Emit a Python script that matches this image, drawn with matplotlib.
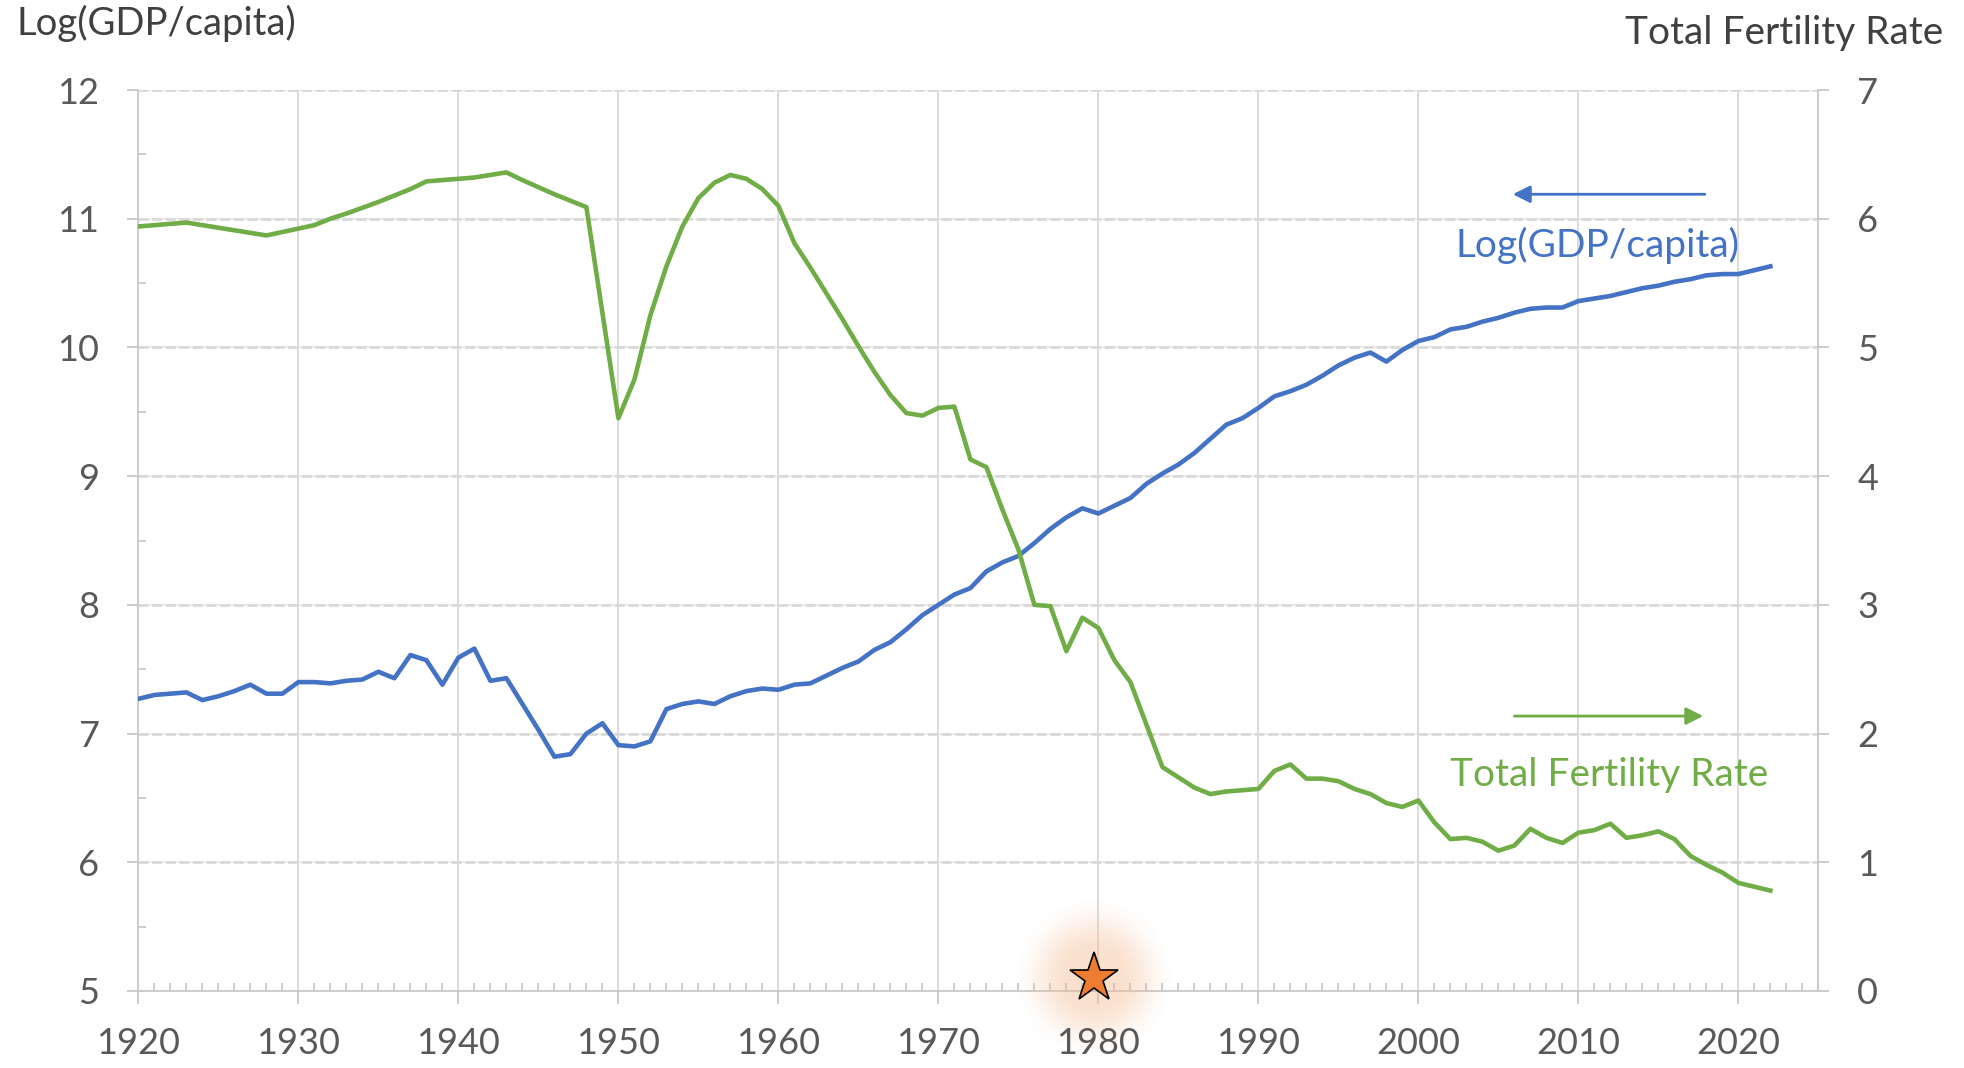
import numpy as np
import matplotlib
matplotlib.use("Agg")
import matplotlib.pyplot as plt
from matplotlib.ticker import MultipleLocator

plt.rcParams['font.family'] = ['Lato', 'DejaVu Sans']

# Log(GDP/capita), linke Achse
gdp_years = list(range(1920, 2023))
gdp_values = [
    7.27, 7.30, 7.31, 7.32, 7.26, 7.29, 7.33, 7.38, 7.31, 7.31,   # 1920-1929
    7.40, 7.40, 7.39, 7.41, 7.42, 7.48, 7.43, 7.61, 7.57, 7.38,   # 1930-1939
    7.59, 7.66, 7.41, 7.43, 7.23, 7.03, 6.82, 6.84, 7.00, 7.08,   # 1940-1949
    6.91, 6.90, 6.94, 7.19, 7.23, 7.25, 7.23, 7.29, 7.33, 7.35,   # 1950-1959
    7.34, 7.38, 7.39, 7.45, 7.51, 7.56, 7.65, 7.71, 7.81, 7.92,   # 1960-1969
    8.00, 8.08, 8.13, 8.26, 8.33, 8.38, 8.48, 8.59, 8.68, 8.75,   # 1970-1979
    8.71, 8.77, 8.83, 8.94, 9.02, 9.09, 9.18, 9.29, 9.40, 9.45,   # 1980-1989
    9.53, 9.62, 9.66, 9.71, 9.78, 9.86, 9.92, 9.96, 9.89, 9.98,   # 1990-1999
    10.05, 10.08, 10.14, 10.16, 10.20, 10.23, 10.27, 10.30, 10.31, 10.31,  # 2000-2009
    10.36, 10.38, 10.40, 10.43, 10.46, 10.48, 10.51, 10.53, 10.56, 10.57,  # 2010-2019
    10.57, 10.60, 10.63,                                          # 2020-2022
]

# Total Fertility Rate, rechte Achse
tfr_years = [1920, 1923, 1928, 1931, 1932, 1933, 1935, 1937, 1938, 1940, 1941, 1943,
             1944, 1946, 1948, 1950, 1951, 1952, 1953, 1954, 1955, 1956, 1957, 1958,
             1959, 1960, 1961, 1962, 1963, 1964, 1965, 1966, 1967, 1968, 1969, 1970,
             1971, 1972, 1973, 1974, 1975, 1976, 1977, 1978, 1979, 1980, 1981, 1982,
             1983, 1984, 1985, 1986, 1987, 1988, 1989, 1990, 1991, 1992, 1993, 1994,
             1995, 1996, 1997, 1998, 1999, 2000, 2001, 2002, 2003, 2004, 2005, 2006,
             2007, 2008, 2009, 2010, 2011, 2012, 2013, 2014, 2015, 2016, 2017, 2018,
             2019, 2020, 2021, 2022]
tfr_values = [5.94, 5.97, 5.87, 5.95, 6.00, 6.04, 6.13, 6.23, 6.29, 6.31, 6.32, 6.36,
              6.30, 6.19, 6.09, 4.45, 4.75, 5.25, 5.63, 5.94, 6.16, 6.28, 6.34, 6.31,
              6.23, 6.10, 5.81, 5.62, 5.42, 5.22, 5.01, 4.81, 4.63, 4.49, 4.47, 4.53,
              4.54, 4.13, 4.07, 3.74, 3.43, 3.00, 2.99, 2.64, 2.90, 2.82, 2.57, 2.40,
              2.07, 1.74, 1.66, 1.58, 1.53, 1.55, 1.56, 1.57, 1.71, 1.76, 1.65, 1.65,
              1.63, 1.57, 1.53, 1.46, 1.43, 1.48, 1.31, 1.18, 1.19, 1.16, 1.09, 1.13,
              1.26, 1.19, 1.15, 1.23, 1.25, 1.30, 1.19, 1.21, 1.24, 1.18, 1.05, 0.98,
              0.92, 0.84, 0.81, 0.78]

blue = '#4472C4'
green = '#70AD47'
orange = '#ED7D31'
tick_col = '#595959'
grid_col = '#d9d9d9'

fig = plt.figure(figsize=(19.65, 10.68), dpi=100)
ax = fig.add_axes([138.4 / 1965, 77 / 1068, 1680 / 1965, 901 / 1068])
ax2 = ax.twinx()

ax.set_xlim(1920, 2025)
ax.set_ylim(5, 12)
ax2.set_ylim(0, 7)

# Gitter
for yv in range(6, 13):
    ax.axhline(yv, color='#e8e8e8', lw=1.2, zorder=0.3)
    ax.axhline(yv, color=grid_col, lw=2.0, ls=(0, (3.6, 1.3)), zorder=0.4)
for xv in range(1930, 2030, 10):
    ax.axvline(xv, color=grid_col, lw=1.3, zorder=0.4)

for a in (ax, ax2):
    a.spines['top'].set_visible(False)
    for s in ('left', 'right', 'bottom'):
        a.spines[s].set_color('#c8c8c8')
        a.spines[s].set_linewidth(1.3)
ax.spines['right'].set_visible(False)
ax2.spines['left'].set_visible(False)
ax2.spines['bottom'].set_visible(False)

ax.xaxis.set_major_locator(MultipleLocator(10))
ax.xaxis.set_minor_locator(MultipleLocator(1))
ax.yaxis.set_major_locator(MultipleLocator(1))
ax.yaxis.set_minor_locator(MultipleLocator(0.5))
ax2.yaxis.set_major_locator(MultipleLocator(1))

ax.tick_params(axis='x', which='major', direction='out', length=9, width=1.3,
               color='#c8c8c8', labelbottom=False)
ax.tick_params(axis='x', which='minor', direction='in', length=6, width=1.3, color='#c8c8c8')
ax.tick_params(axis='y', which='major', direction='out', length=8, width=1.3,
               color='#c8c8c8', labelsize=26, labelcolor=tick_col, pad=20)
ax.tick_params(axis='y', which='minor', direction='in', length=6, width=1.3, color='#c8c8c8')
ax2.tick_params(axis='y', which='major', direction='out', length=8, width=1.3,
                color='#c8c8c8', labelsize=26, labelcolor=tick_col, pad=20)

# x-Beschriftung auf ax2, damit sie über dem Leuchten liegt
ax2.xaxis.set_visible(True)
ax2.xaxis.set_major_locator(MultipleLocator(10))
ax2.tick_params(axis='x', which='both', length=0, labelsize=26, labelcolor=tick_col,
                pad=26, labelbottom=True, labeltop=False)

ax.plot(gdp_years, gdp_values, color=blue, lw=3.3, zorder=3, solid_joinstyle='round')
ax2.plot(tfr_years, tfr_values, color=green, lw=3.3, zorder=3, solid_joinstyle='round')

# Leuchten um den Stern
n = 240
g = np.linspace(-1, 1, n)
xx, yy = np.meshgrid(g, g)
r = np.sqrt(xx ** 2 + yy ** 2)
t = np.clip((r - 0.3) / 0.7, 0, 1)
glow = np.zeros((n, n, 4))
glow[..., 0] = 0.96
glow[..., 1] = 0.74
glow[..., 2] = 0.58
glow[..., 3] = 0.45 * (1 - t * t * (3 - 2 * t))
star_x, star_y = 1979.7, 5.10
rx, ry = 82 / 16.0, 82 / 128.7
im = ax.imshow(glow, extent=[star_x - rx, star_x + rx, star_y - ry, star_y + ry],
               aspect='auto', zorder=2.8, interpolation='bilinear')
im.set_clip_on(False)
ax.set_xlim(1920, 2025)
ax.set_ylim(5, 12)
ax.plot([star_x], [star_y], marker='*', ms=37, color=orange, mec='black', mew=1.2,
        zorder=4, clip_on=False)

# Pfeile und Beschriftungen
ax.annotate('', xy=(2005.9, 11.19), xytext=(2017.9, 11.19),
            arrowprops=dict(arrowstyle='-|>', color=blue, lw=2.0,
                            mutation_scale=26, shrinkA=0, shrinkB=0))
ax.text(2011.2, 10.70, 'Log(GDP/capita)', color=blue, fontsize=28,
        ha='center', va='baseline')
ax2.annotate('', xy=(2017.8, 2.136), xytext=(2006.0, 2.136),
             arrowprops=dict(arrowstyle='-|>', color=green, lw=2.0,
                             mutation_scale=26, shrinkA=0, shrinkB=0))
ax2.text(2011.9, 1.59, 'Total Fertility Rate', color=green, fontsize=28,
         ha='center', va='baseline')

fig.text(16 / 1965, 1 - 35 / 1068, 'Log(GDP/capita)', fontsize=27.5, color='#404040',
         ha='left', va='baseline')
fig.text(1943 / 1965, 1 - 44 / 1068, 'Total Fertility Rate', fontsize=28, color='#404040',
         ha='right', va='baseline')

fig.savefig('out.png', dpi=100)
